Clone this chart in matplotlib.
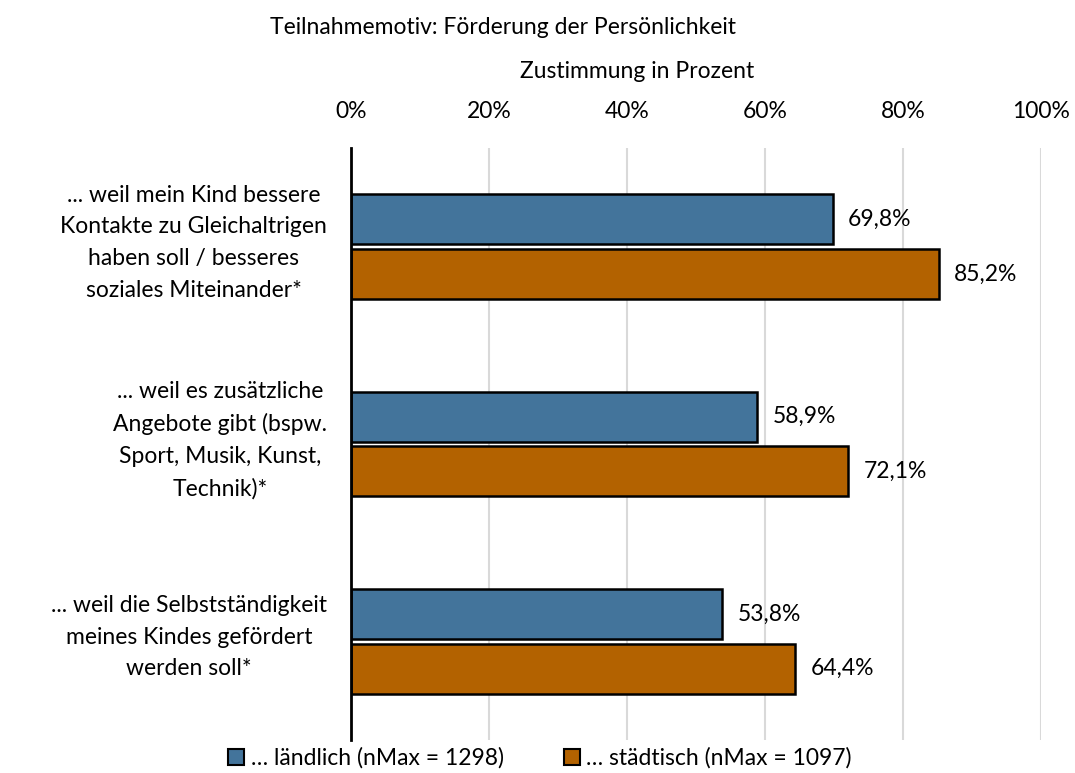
import numpy as np
import matplotlib.pyplot as plt
import matplotlib.transforms as mtrans
from matplotlib.patches import Patch
from matplotlib.ticker import FuncFormatter

plt.rcParams['font.family'] = ['Lato', 'DejaVu Sans']
fs = 16.5

# data
kategorien = ["... weil mein Kind bessere\nKontakte zu Gleichaltrigen\nhaben soll / besseres\nsoziales Miteinander*",
              "... weil es zusätzliche\nAngebote gibt (bspw.\nSport, Musik, Kunst,\nTechnik)*",
              "... weil die Selbstständigkeit\nmeines Kindes gefördert\nwerden soll*"]
laendlich = [69.8, 58.9, 53.8]
staedtisch = [85.2, 72.1, 64.4]
serien = ["… ländlich (nMax = 1298)", "… städtisch (nMax = 1097)"]

blau = '#43749B'
orange = '#B36200'

fig = plt.figure(figsize=(10.75, 7.73), dpi=100)
ax = fig.add_axes([351/1075, 1-740/773, 690/1075, (740-148)/773])

y = np.arange(len(kategorien))
h = 0.253
off = 0.139
b1 = ax.barh(y - off, laendlich, height=h, color=blau, edgecolor='black', linewidth=1.8, zorder=3)
b2 = ax.barh(y + off, staedtisch, height=h, color=orange, edgecolor='black', linewidth=1.8, zorder=3)

for bars, vals in ((b1, laendlich), (b2, staedtisch)):
    for r, v in zip(bars, vals):
        ax.text(v + 2.2, r.get_y() + r.get_height()/2, f"{v:.1f}%".replace('.', ','),
                va='center', ha='left', fontsize=fs)

ax.set_xlim(0, 100)
ax.set_ylim(2.5, -0.5)
ax.set_xticks(np.arange(0, 101, 20))
ax.xaxis.set_major_formatter(FuncFormatter(lambda v, p: f"{v:.0f}%"))
ax.xaxis.tick_top()
ax.tick_params(axis='x', length=0, pad=19, labelsize=fs)
ax.set_yticks([])

# category labels, right edge at fixed pixel x
trans = mtrans.blended_transform_factory(fig.transFigure, ax.transData)
for yi, lab in zip(y, kategorien):
    ax.text(327/1075, yi - 0.02, lab, transform=trans, ha='right', va='center',
            multialignment='center', fontsize=fs, linespacing=1.62)

ax.grid(axis='x', color='#D9D9D9', linewidth=1.5, zorder=0)
for s in ('top', 'right', 'bottom'):
    ax.spines[s].set_visible(False)
ax.spines['left'].set_linewidth(2)
ax.spines['left'].set_zorder(4)

fig.text(503/1075, 1-28/773, "Teilnahmemotiv: Förderung der Persönlichkeit", ha='center', va='center', fontsize=fs)
fig.text(637/1075, 1-72/773, "Zustimmung in Prozent", ha='center', va='center', fontsize=fs)

handles = [Patch(facecolor=blau, edgecolor='black', linewidth=1.5),
           Patch(facecolor=orange, edgecolor='black', linewidth=1.5)]
fig.legend(handles, serien, loc='center', bbox_to_anchor=(540/1075, 1-758/773), ncol=2,
           frameon=False, fontsize=fs, handlelength=0.7, handleheight=0.7,
           handletextpad=0.3, columnspacing=2.6, borderaxespad=0)

fig.savefig('out.png', dpi=100)
